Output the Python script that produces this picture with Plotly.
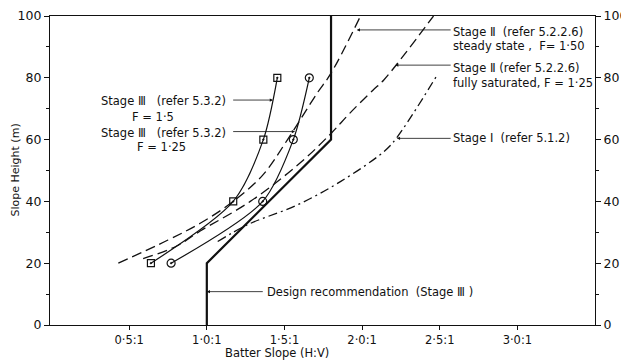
import plotly.graph_objects as go

# ---- data ----
height_pts = [20, 40, 60, 80]
stage3_f150_x = [0.64, 1.17, 1.364, 1.454]
stage3_f125_x = [0.77, 1.36, 1.557, 1.66]

stage2_steady_x = [0.43, 0.75, 0.96, 1.17, 1.36, 1.52, 1.71, 1.80, 1.99]
stage2_steady_y = [20, 27.5, 33, 40, 48.5, 60, 75, 81.5, 100]

stage2_sat_x = [0.59, 0.80, 0.96, 1.28, 1.60, 1.80, 1.92, 2.07, 2.14, 2.46]
stage2_sat_y = [21.5, 25.4, 30.5, 40, 52.4, 62, 68.5, 76, 79.3, 100]

stage1_x = [1.07, 1.26, 1.58, 1.86, 2.14, 2.22, 2.48]
stage1_y = [27, 32.4, 38.8, 46.4, 56.1, 60.4, 80.6]

design_x = [1.0, 1.0, 1.8, 1.8]
design_y = [0, 20, 60, 100]

x_tick_vals = [0.5, 1.0, 1.5, 2.0, 2.5, 3.0]
x_tick_text = ["0·5:1", "1·0:1", "1·5:1", "2·0:1", "2·5:1", "3·0:1"]
y_tick_vals = [0, 20, 40, 60, 80, 100]

FONT = "DejaVu Sans, sans-serif"
BLACK = "#111111"

fig = go.Figure()

fig.add_trace(go.Scatter(x=design_x, y=design_y, mode="lines",
                         line=dict(color=BLACK, width=2.2), showlegend=False))
fig.add_trace(go.Scatter(x=stage3_f150_x, y=height_pts, mode="lines+markers",
                         line=dict(color=BLACK, width=1.2, shape="spline", smoothing=0.8),
                         marker=dict(symbol="square-open-dot", size=7, color=BLACK,
                                     line=dict(width=1.2, color=BLACK)),
                         showlegend=False))
fig.add_trace(go.Scatter(x=stage3_f125_x, y=height_pts, mode="lines+markers",
                         line=dict(color=BLACK, width=1.2, shape="spline", smoothing=0.8),
                         marker=dict(symbol="circle-open-dot", size=8, color=BLACK,
                                     line=dict(width=1.2, color=BLACK)),
                         showlegend=False))
fig.add_trace(go.Scatter(x=stage2_steady_x, y=stage2_steady_y, mode="lines",
                         line=dict(color=BLACK, width=1.3, shape="spline", smoothing=1.0,
                                   dash="10px,5px"), showlegend=False))
fig.add_trace(go.Scatter(x=stage2_sat_x, y=stage2_sat_y, mode="lines",
                         line=dict(color=BLACK, width=1.3, shape="spline", smoothing=1.0,
                                   dash="10px,5px"), showlegend=False))
fig.add_trace(go.Scatter(x=stage1_x, y=stage1_y, mode="lines",
                         line=dict(color=BLACK, width=1.3, shape="spline", smoothing=1.0,
                                   dash="9px,4px,2px,4px"), showlegend=False))
# invisible trace for right axis
fig.add_trace(go.Scatter(x=[None], y=[None], yaxis="y2", showlegend=False))

anns = []
# arrows (head on curve, tail at label)
arrows = [
    (1.426, 72.8, 1.16, 72.8),
    (1.568, 62.6, 1.16, 62.6),
    (1.966, 95.5, 2.58, 95.5),
    (2.213, 84.1, 2.58, 84.1),
    (2.224, 60.4, 2.58, 60.4),
    (1.0, 10.8, 1.37, 10.8),
]
for hx, hy, tx, ty in arrows:
    anns.append(dict(x=hx, y=hy, ax=tx, ay=ty, xref="x", yref="y", axref="x", ayref="y",
                     text="", showarrow=True, arrowhead=2, arrowsize=0.8,
                     arrowwidth=0.8, arrowcolor=BLACK))

texts = [
    ("Stage Ⅲ   (refer 5.3.2)", 0.094, 0.725),
    ("F = 1·5", 0.150, 0.673),
    ("Stage Ⅲ   (refer 5.3.2)", 0.094, 0.622),
    ("F = 1·25", 0.160, 0.576),
    ("Stage Ⅱ  (refer 5.2.2.6)", 0.739, 0.947),
    ("steady state ,  F= 1·50", 0.739, 0.904),
    ("Stage Ⅱ (refer 5.2.2.6)", 0.739, 0.831),
    ("fully saturated, F = 1·25", 0.739, 0.784),
    ("Stage Ⅰ  (refer 5.1.2)", 0.739, 0.604),
    ("Design recommendation  (Stage Ⅲ )", 0.398, 0.108),
]
for t, x, y in texts:
    anns.append(dict(x=x, y=y, xref="paper", yref="paper", text=t, showarrow=False,
                     xanchor="left", yanchor="middle", xshift=-2,
                     font=dict(family=FONT, size=11.5, color=BLACK)))

# axis titles as annotations
anns.append(dict(x=-35 / 545, y=0.5, xref="paper", yref="paper", text="Slope Height (m)",
                 showarrow=False, textangle=-90, xanchor="center", yanchor="middle",
                 font=dict(family=FONT, size=11, color=BLACK)))
anns.append(dict(x=(277 - 50) / 545, y=-(353 - 325) / 309, xref="paper", yref="paper",
                 text="Batter Slope (H:V)", showarrow=False, xanchor="center",
                 yanchor="middle", font=dict(family=FONT, size=11.5, color=BLACK)))

fig.update_layout(
    width=621, height=353,
    margin=dict(l=42, r=34, t=8, b=36),
    paper_bgcolor="white", plot_bgcolor="white",
    font=dict(family=FONT, size=12, color=BLACK),
    annotations=anns,
    xaxis=dict(range=[-0.01, 3.5], tickvals=x_tick_vals, ticktext=x_tick_text,
               ticks="outside", ticklen=4, tickcolor=BLACK, showgrid=False, zeroline=False,
               showline=True, linecolor=BLACK, linewidth=1.2, mirror=True,
               tickfont=dict(size=11.5), automargin=False),
    yaxis=dict(range=[0, 100], tickvals=y_tick_vals, ticks="outside", ticklen=5,
               tickcolor=BLACK, showgrid=False, zeroline=False, showline=True,
               linecolor=BLACK, linewidth=1.2, automargin=False,
               minor=dict(dtick=10, ticks="outside", ticklen=3, tickcolor=BLACK),
               tickfont=dict(size=12.5)),
    yaxis2=dict(range=[0, 100], tickvals=y_tick_vals, ticks="outside", ticklen=5,
                tickcolor=BLACK, overlaying="y", side="right", showgrid=False,
                zeroline=False, showline=True, linecolor=BLACK, linewidth=1.2,
                automargin=False,
                minor=dict(dtick=10, ticks="outside", ticklen=3, tickcolor=BLACK),
                tickfont=dict(size=12.5)),
)

fig.write_html("out.html")
